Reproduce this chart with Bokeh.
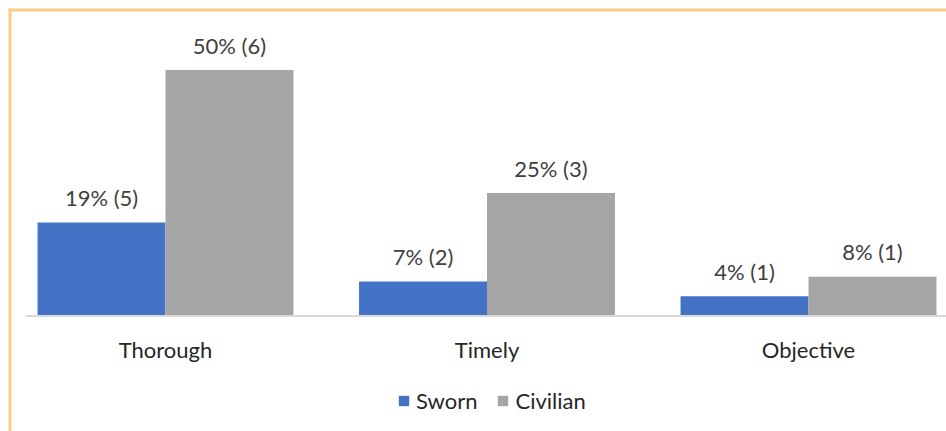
from bokeh.plotting import figure
from bokeh.models import ColumnDataSource, Legend, LegendItem, BoxAnnotation
from bokeh.transform import dodge
from bokeh.core.properties import value
from bokeh.embed import file_html
from bokeh.resources import INLINE

categories = ["Thorough", "Timely", "Objective"]
sworn_pct = [19, 7, 4]
sworn_n = [5, 2, 1]
civilian_pct = [50, 25, 8]
civilian_n = [6, 3, 1]

FONT = "Lato"
src = ColumnDataSource(dict(
    x=list(range(len(categories))),
    cat=categories,
    zero=[0] * len(categories),
    sworn=sworn_pct,
    civilian=civilian_pct,
    sworn_lbl=[f"{p}% ({n})" for p, n in zip(sworn_pct, sworn_n)],
    civ_lbl=[f"{p}% ({n})" for p, n in zip(civilian_pct, civilian_n)],
))

W, H = 946, 431
px_per_cat = 321.5
x0_px = 165.0
px_per_unit = 4.92
y0_px = 315.5

p = figure(width=W, height=H,
           x_range=(-x0_px / px_per_cat, (W - x0_px) / px_per_cat),
           y_range=(-(H - y0_px) / px_per_unit, y0_px / px_per_unit),
           output_backend="svg", toolbar_location=None, min_border=0)

bw = 0.398
r1 = p.vbar(x=dodge("x", -bw / 2, range=p.x_range), top="sworn", width=bw, source=src,
            fill_color="#4472C4", line_color=None)
r2 = p.vbar(x=dodge("x", bw / 2, range=p.x_range), top="civilian", width=bw, source=src,
            fill_color="#A5A5A5", line_color=None)

for col, lbl, off in (("sworn", "sworn_lbl", -bw / 2), ("civilian", "civ_lbl", bw / 2)):
    p.text(x=dodge("x", off, range=p.x_range), y=col, text=lbl, source=src,
           text_align="center", text_baseline="alphabetic", y_offset=-25,
           text_font=value(FONT), text_font_size="22px", text_color="#404040")

# category labels (x axis)
p.text(x="x", y="zero", text="cat", source=src, text_align="center",
       text_baseline="alphabetic", y_offset=33,
       text_font=value(FONT), text_font_size="22px", text_color="#262626")

# axis baseline
p.add_layout(BoxAnnotation(left=25, left_units="screen", bottom=0, top=0,
                           fill_alpha=0, line_color="#D9D9D9", line_alpha=1, line_width=2))

# orange frame border (top and left edges); screen y is measured from the bottom
border = "#F9CF85"
p.add_layout(BoxAnnotation(left=8, right=11, top=H - 8, bottom=-40,
                           left_units="screen", right_units="screen",
                           top_units="screen", bottom_units="screen",
                           fill_color=border, fill_alpha=1, line_alpha=0))
p.add_layout(BoxAnnotation(left=8, right=W + 40, top=H - 8, bottom=H - 11,
                           left_units="screen", right_units="screen",
                           top_units="screen", bottom_units="screen",
                           fill_color=border, fill_alpha=1, line_alpha=0))

p.xaxis.visible = False
p.yaxis.visible = False
p.xgrid.visible = False
p.ygrid.visible = False
p.outline_line_color = None
p.background_fill_color = "white"
p.border_fill_color = "white"

legend = Legend(items=[LegendItem(label="Sworn", renderers=[r1]),
                       LegendItem(label="Civilian", renderers=[r2])],
                orientation="horizontal", location=(397, 17),
                label_text_font=FONT, label_text_font_size="22px", label_text_color="#262626",
                glyph_width=13, glyph_height=13, spacing=19, label_standoff=6,
                border_line_color=None, background_fill_alpha=0, padding=0, margin=0)
p.add_layout(legend)

open("out.html", "w").write(file_html(p, INLINE))
